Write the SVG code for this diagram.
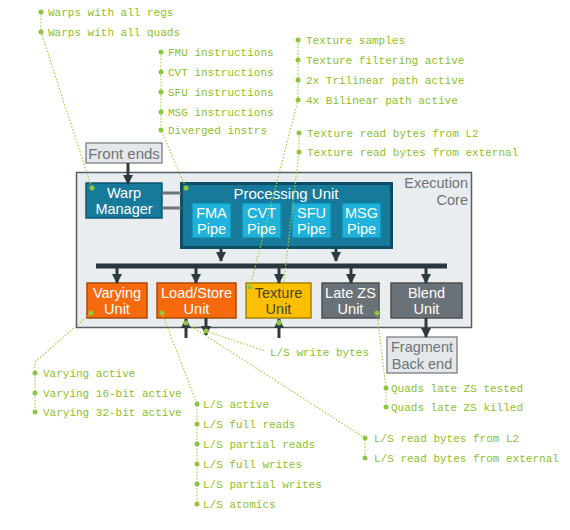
<svg xmlns="http://www.w3.org/2000/svg" width="570" height="530" viewBox="0 0 570 530">
<defs>
<style>
.lbl{font-family:"Liberation Mono","DejaVu Sans Mono",monospace;font-size:11px;fill:#8cbf2a}
.nt{font-family:"Liberation Sans",Arial,sans-serif;font-size:14.5px;text-anchor:middle}
.big{font-size:15px}
.w{fill:#ffffff}
.g{fill:#6e7478}
.dot{fill:#8dc63f}
.lead{fill:none;stroke:#a8cf45;stroke-width:1.2;stroke-dasharray:1.5 1.8}
.arr{stroke:#2f3a40;stroke-width:3;fill:none;marker-end:url(#ah)}
.blue{fill:#187a9b;stroke:#0f5a74;stroke-width:1.5}
.pipe{fill:#1fb2da;stroke:#0e86ab;stroke-width:1.2}
.orange{fill:#f66a0d;stroke:#a84a0c;stroke-width:1.5}
.yellow{fill:#fbc002;stroke:#a88200;stroke-width:1.5}
.gray{fill:#6b7277;stroke:#4a5055;stroke-width:1.5}
.pale{fill:#e5e8ea;stroke:#6e7478;stroke-width:1.2}
</style>
<marker id="ah" viewBox="0 0 10 10" refX="9" refY="5" markerWidth="11" markerHeight="10" markerUnits="userSpaceOnUse" orient="auto">
<path d="M0,0 L10,5 L0,10 z" fill="#2f3a40"/>
</marker>
</defs>

<g id="execution-core">
<rect x="76.5" y="172.5" width="395" height="155" fill="#e9edef" stroke="#565d63" stroke-width="1.5"/>
<text class="nt g" x="468" y="188" style="text-anchor:end">Execution</text>
<text class="nt g" x="468" y="204.5" style="text-anchor:end">Core</text>
</g>

<g id="front-ends">
<rect class="pale" x="86" y="143" width="76" height="20"/>
<text class="nt big g" x="124" y="158.5">Front ends</text>
</g>

<g id="warp-manager">
<rect class="blue" x="86" y="183" width="76" height="35"/>
<text class="nt w" x="124" y="197.5">Warp</text>
<text class="nt w" x="124" y="214">Manager</text>
<circle class="dot" cx="92" cy="188" r="2.5"/>
</g>

<g id="processing-unit">
<rect x="181.5" y="183.5" width="210" height="64" fill="#187a9b" stroke="#0d4e64" stroke-width="3"/>
<text class="nt big w" x="286" y="198.5">Processing Unit</text>
<circle class="dot" cx="186" cy="188" r="2.5"/>
</g>
<g id="fma-pipe">
<rect class="pipe" x="192" y="203" width="39" height="35"/>
<text class="nt w" x="211.5" y="217.5">FMA</text>
<text class="nt w" x="211.5" y="234">Pipe</text>
</g>
<g id="cvt-pipe">
<rect class="pipe" x="242" y="203" width="39" height="35"/>
<text class="nt w" x="261.5" y="217.5">CVT</text>
<text class="nt w" x="261.5" y="234">Pipe</text>
</g>
<g id="sfu-pipe">
<rect class="pipe" x="292" y="203" width="39" height="35"/>
<text class="nt w" x="311.5" y="217.5">SFU</text>
<text class="nt w" x="311.5" y="234">Pipe</text>
</g>
<g id="msg-pipe">
<rect class="pipe" x="342" y="203" width="39" height="35"/>
<text class="nt w" x="361.5" y="217.5">MSG</text>
<text class="nt w" x="361.5" y="234">Pipe</text>
</g>

<g id="varying-unit">
<rect class="orange" x="87" y="283" width="60" height="35"/>
<text class="nt w" x="117" y="297.5">Varying</text>
<text class="nt w" x="117" y="314">Unit</text>
<circle class="dot" cx="91" cy="313" r="2.5"/>
</g>
<g id="load-store-unit">
<rect class="orange" x="157" y="283" width="79" height="35"/>
<text class="nt w" x="196.5" y="297.5">Load/Store</text>
<text class="nt w" x="196.5" y="314">Unit</text>
<circle class="dot" cx="162" cy="313" r="2.5"/>
</g>
<g id="texture-unit">
<rect class="yellow" x="246" y="283" width="65" height="35"/>
<text class="nt" x="278.5" y="297.5" fill="#4a4228">Texture</text>
<text class="nt" x="278.5" y="314" fill="#4a4228">Unit</text>
<circle class="dot" cx="250" cy="287" r="2.5"/>
</g>
<g id="late-zs-unit">
<rect class="gray" x="322" y="283" width="57" height="35"/>
<text class="nt w" x="350.5" y="297.5">Late ZS</text>
<text class="nt w" x="350.5" y="314">Unit</text>
<circle class="dot" cx="377" cy="313" r="2.5"/>
</g>
<g id="blend-unit">
<rect class="gray" x="391" y="283" width="71" height="35"/>
<text class="nt w" x="426.5" y="297.5">Blend</text>
<text class="nt w" x="426.5" y="314">Unit</text>
</g>

<g id="fragment-back-end">
<rect class="pale" x="387" y="337" width="70" height="36"/>
<text class="nt g" x="422" y="352">Fragment</text>
<text class="nt g" x="422" y="368.5">Back end</text>
</g>

<g id="connectors">
<line x1="162" y1="193" x2="181" y2="193" stroke="#6e7478" stroke-width="3"/>
<line x1="162" y1="208" x2="181" y2="208" stroke="#6e7478" stroke-width="3"/>
<path class="arr" d="M128,163 V184"/>
<path class="arr" d="M221,249 V261"/>
<path class="arr" d="M336,249 V261"/>
<line x1="96" y1="266" x2="447" y2="266" stroke="#2b353b" stroke-width="5"/>
<path class="arr" d="M117,268 V283"/>
<path class="arr" d="M196,268 V283"/>
<path class="arr" d="M279,268 V283"/>
<path class="arr" d="M351,268 V283"/>
<path class="arr" d="M426,268 V283"/>
<path class="arr" d="M426,318 V337"/>
<path class="arr" d="M186,338 V319"/>
<path class="arr" d="M206,318 V335"/>
<path class="arr" d="M279,338 V319"/>
<circle class="dot" cx="186" cy="323" r="2.5"/>
<circle class="dot" cx="206" cy="331" r="2.5"/>
<circle class="dot" cx="279" cy="323" r="2.5"/>

<path class="lead" d="M41,12 V32 L92,188"/>
<path class="lead" d="M161,52 V130 L186,188"/>
<path class="lead" d="M298,40 V100 L250,287"/>
<path class="lead" d="M299,133 V152 L279,323"/>
<path class="lead" d="M91,313 L35,362 V412"/>
<path class="lead" d="M162,313 L197,404 V504"/>
<path class="lead" d="M206,331 L265,351"/>
<path class="lead" d="M186,323 L365,438 V458"/>
<path class="lead" d="M377,313 L386,388 V407"/>
</g>

<g id="labels">
<circle class="dot" cx="41" cy="12" r="2.5"/><text class="lbl" x="48" y="16">Warps with all regs</text>
<circle class="dot" cx="41" cy="32" r="2.5"/><text class="lbl" x="48" y="36">Warps with all quads</text>

<circle class="dot" cx="161" cy="52" r="2.5"/><text class="lbl" x="168" y="56">FMU instructions</text>
<circle class="dot" cx="161" cy="72" r="2.5"/><text class="lbl" x="168" y="76">CVT instructions</text>
<circle class="dot" cx="161" cy="92" r="2.5"/><text class="lbl" x="168" y="96">SFU instructions</text>
<circle class="dot" cx="161" cy="112" r="2.5"/><text class="lbl" x="168" y="116">MSG instructions</text>
<circle class="dot" cx="161" cy="130" r="2.5"/><text class="lbl" x="168" y="134">Diverged instrs</text>

<circle class="dot" cx="298" cy="40" r="2.5"/><text class="lbl" x="306" y="44">Texture samples</text>
<circle class="dot" cx="298" cy="60" r="2.5"/><text class="lbl" x="306" y="64">Texture filtering active</text>
<circle class="dot" cx="298" cy="80" r="2.5"/><text class="lbl" x="306" y="84">2x Trilinear path active</text>
<circle class="dot" cx="298" cy="100" r="2.5"/><text class="lbl" x="306" y="104">4x Bilinear path active</text>

<circle class="dot" cx="299" cy="133" r="2.5"/><text class="lbl" x="307" y="137">Texture read bytes from L2</text>
<circle class="dot" cx="299" cy="152" r="2.5"/><text class="lbl" x="307" y="156">Texture read bytes from external</text>

<text class="lbl" x="270" y="356">L/S write bytes</text>

<circle class="dot" cx="35" cy="373" r="2.5"/><text class="lbl" x="43" y="377">Varying active</text>
<circle class="dot" cx="35" cy="393" r="2.5"/><text class="lbl" x="43" y="397">Varying 16-bit active</text>
<circle class="dot" cx="35" cy="412" r="2.5"/><text class="lbl" x="43" y="416">Varying 32-bit active</text>

<circle class="dot" cx="386" cy="388" r="2.5"/><text class="lbl" x="391" y="392">Quads late ZS tested</text>
<circle class="dot" cx="386" cy="407" r="2.5"/><text class="lbl" x="391" y="411">Quads late ZS killed</text>

<circle class="dot" cx="365" cy="438" r="2.5"/><text class="lbl" x="374" y="442">L/S read bytes from L2</text>
<circle class="dot" cx="365" cy="458" r="2.5"/><text class="lbl" x="374" y="462">L/S read bytes from external</text>

<circle class="dot" cx="197" cy="404" r="2.5"/><text class="lbl" x="203" y="408">L/S active</text>
<circle class="dot" cx="197" cy="424" r="2.5"/><text class="lbl" x="203" y="428">L/S full reads</text>
<circle class="dot" cx="197" cy="444" r="2.5"/><text class="lbl" x="203" y="448">L/S partial reads</text>
<circle class="dot" cx="197" cy="464" r="2.5"/><text class="lbl" x="203" y="468">L/S full writes</text>
<circle class="dot" cx="197" cy="484" r="2.5"/><text class="lbl" x="203" y="488">L/S partial writes</text>
<circle class="dot" cx="197" cy="504" r="2.5"/><text class="lbl" x="203" y="508">L/S atomics</text>
</g>
</svg>
